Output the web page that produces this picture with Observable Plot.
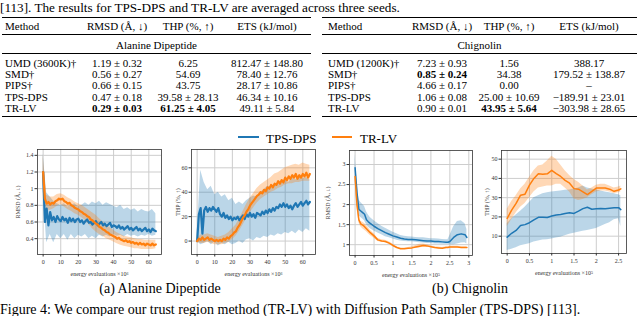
<!DOCTYPE html>
<html><head><meta charset="utf-8">
<script src="https://cdn.jsdelivr.net/npm/d3@7"></script>
<script src="https://cdn.jsdelivr.net/npm/@observablehq/plot@0.6"></script>
<style>
body{margin:0;width:640px;height:316px;overflow:hidden;background:#fff;font-family:"Liberation Serif",serif;color:#000;position:relative}
.t{position:absolute;white-space:nowrap;line-height:1;font-family:"Liberation Serif",serif}
.rule{position:absolute;background:#000}
.chart{position:absolute}
</style></head><body>
<script>
// ---------- text ----------
const topLine = "[113]. The results for TPS-DPS and TR-LV are averaged across three seeds.";
const captionA = "(a) Alanine Dipeptide";
const captionB = "(b) Chignolin";
const figCaption = "Figure 4: We compare our trust region method (TR-LV) with Diffusion Path Sampler (TPS-DPS) [113].";

// ---------- table ----------
const tableHeaders = ["Method", "RMSD (Å, ↓)", "THP (%, ↑)", "ETS (kJ/mol)"];
const adTitle = "Alanine Dipeptide";
const adMethods = ["UMD (3600K)†", "SMD†", "PIPS†", "TPS-DPS", "TR-LV"];
const adRMSD = ["1.19 ± 0.32", "0.56 ± 0.27", "0.66 ± 0.15", "0.47 ± 0.18", "0.29 ± 0.03"];
const adTHP = ["6.25", "54.69", "43.75", "39.58 ± 28.13", "61.25 ± 4.05"];
const adETS = ["812.47 ± 148.80", "78.40 ± 12.76", "28.17 ± 10.86", "46.34 ± 10.16", "49.11 ± 5.84"];
const adBoldRMSD = 4, adBoldTHP = 4;
const chTitle = "Chignolin";
const chMethods = ["UMD (1200K)†", "SMD†", "PIPS†", "TPS-DPS", "TR-LV"];
const chRMSD = ["7.23 ± 0.93", "0.85 ± 0.24", "4.66 ± 0.17", "1.06 ± 0.08", "0.90 ± 0.01"];
const chTHP = ["1.56", "34.38", "0.00", "25.00 ± 10.69", "43.95 ± 5.64"];
const chETS = ["388.17", "179.52 ± 138.87", "–", "−189.91 ± 23.01", "−303.98 ± 28.65"];
const chBoldRMSD = 1, chBoldTHP = 4;

// ---------- series ----------
const seriesNames = ["TPS-DPS", "TR-LV"];
const seriesColors = ["#1f77b4", "#ff7f0e"];

// Alanine dipeptide, x = energy evaluations ×10^6
const adX = d3.range(0, 65);
const adBandX = d3.range(0, 65, 2);
const adRmsdDps = [1.20,0.60,0.76,0.56,0.72,0.62,0.66,0.60,0.67,0.63,
  0.61,0.66,0.62,0.64,0.59,0.65,0.61,0.64,0.60,0.63,
  0.64,0.60,0.62,0.58,0.61,0.63,0.59,0.60,0.57,0.59,
  0.61,0.56,0.58,0.60,0.56,0.58,0.55,0.57,0.59,0.54,
  0.56,0.55,0.53,0.56,0.52,0.54,0.51,0.53,0.55,0.51,
  0.53,0.50,0.52,0.54,0.50,0.52,0.49,0.51,0.53,0.49,
  0.51,0.48,0.52,0.50,0.49];
const adRmsdLv = [1.20,0.88,0.82,0.84,0.81,0.83,0.82,0.85,0.86,0.88,
  0.87,0.88,0.85,0.84,0.82,0.83,0.80,0.79,0.77,0.76,
  0.75,0.73,0.72,0.70,0.69,0.67,0.66,0.63,0.62,0.60,
  0.58,0.57,0.54,0.53,0.51,0.50,0.48,0.47,0.45,0.44,
  0.43,0.42,0.40,0.41,0.39,0.38,0.37,0.38,0.36,0.37,
  0.35,0.36,0.34,0.35,0.33,0.35,0.33,0.34,0.32,0.34,
  0.33,0.32,0.34,0.32,0.33];
const adRmsdDpsLo = [1.00,0.35,0.45,0.35,0.45,0.40,0.45,0.38,0.45,0.40,0.44,0.42,0.45,0.40,0.43,0.40,0.44,0.42,0.44,0.42,0.45,0.43,0.44,0.42,0.45,0.43,0.44,0.42,0.44,0.43,0.45,0.43,0.44];
const adRmsdDpsHi = [1.42,0.95,0.90,0.85,0.82,0.80,0.82,0.78,0.80,0.82,0.78,0.80,0.83,0.80,0.84,0.82,0.85,0.80,0.83,0.81,0.79,0.77,0.80,0.75,0.77,0.74,0.76,0.72,0.75,0.73,0.72,0.75,0.70];
const adRmsdLvLo = [1.05,0.74,0.74,0.76,0.79,0.81,0.78,0.75,0.73,0.70,0.68,0.65,0.62,0.57,0.52,0.48,0.45,0.43,0.40,0.38,0.36,0.34,0.32,0.31,0.30,0.29,0.28,0.28,0.27,0.27,0.27,0.27,0.28];
const adRmsdLvHi = [1.40,0.92,0.90,0.90,0.93,0.94,0.92,0.89,0.87,0.84,0.82,0.80,0.77,0.74,0.71,0.68,0.64,0.60,0.56,0.53,0.50,0.47,0.45,0.43,0.42,0.41,0.40,0.39,0.39,0.38,0.38,0.38,0.38];

const adThpDps = [0,22,27,6,25,28,24,27,25,28,
  26,24,27,22,20,23,19,21,18,20,
  17,19,18,20,17,19,21,18,22,20,
  23,20,22,19,23,22,21,24,22,25,
  23,26,24,27,25,28,27,30,28,31,
  28,30,27,29,26,29,31,28,30,32,
  29,31,33,30,32];
const adThpLv = [0,2,1,3,1,2,3,1,2,1,
  0,1,0,1,0,2,1,3,2,4,
  5,7,8,11,13,16,19,21,24,26,
  29,31,33,35,37,38,40,39,42,41,
  44,43,46,44,47,46,49,47,50,48,
  52,50,53,51,54,52,55,51,54,52,
  55,53,56,52,55];
const adThpDpsLo = [0,-3,-2,0,-3,-1,-4,-2,-3,-1,-3,-2,0,-2,1,2,0,3,2,4,3,5,4,6,5,7,6,8,6,9,7,10,8];
const adThpDpsHi = [5,58,48,42,45,38,40,36,38,33,35,30,32,30,33,35,37,36,40,42,45,44,47,46,48,50,48,52,50,53,51,52,50];
const adThpLvLo = [-1,-2,-2,-1,-2,-3,-3,-3,-2,-1,1,4,8,13,18,23,27,31,34,36,38,40,41,43,44,46,47,47,48,48,49,49,49];
const adThpLvHi = [2,5,5,6,5,4,3,4,5,7,10,13,18,24,30,35,39,43,46,48,50,52,55,56,58,60,61,62,63,62,64,63,62];

// Chignolin, x = energy evaluations ×10^5
const chRmsdX = [0,0.05,0.1,0.15,0.2,0.25,0.3,0.35,0.4,0.5,0.6,0.7,0.8,0.9,1.0,1.1,1.2,1.3,1.4,1.5,1.6,1.7,1.8,1.9,2.0,2.1,2.2,2.3,2.4,2.45,2.5,2.6,2.7,2.8,2.9,2.95];
const chRmsdDps = [2.92,2.30,1.88,1.84,1.80,1.76,1.62,1.57,1.53,1.46,1.40,1.35,1.30,1.26,1.22,1.19,1.16,1.14,1.13,1.13,1.12,1.11,1.10,1.09,1.09,1.08,1.08,1.07,1.06,1.06,1.08,1.18,1.25,1.27,1.25,1.18];
const chRmsdDpsLo = [2.60,2.00,1.72,1.68,1.64,1.60,1.50,1.44,1.40,1.34,1.29,1.25,1.20,1.17,1.14,1.11,1.09,1.08,1.07,1.07,1.06,1.05,1.04,1.03,1.03,1.02,1.02,1.01,1.01,1.01,1.00,1.00,1.02,1.04,1.05,1.02];
const chRmsdDpsHi = [3.25,2.60,2.12,2.05,2.00,1.95,1.82,1.74,1.68,1.60,1.53,1.46,1.41,1.36,1.31,1.27,1.23,1.21,1.20,1.19,1.18,1.17,1.17,1.16,1.15,1.15,1.14,1.13,1.12,1.12,1.22,1.45,1.58,1.60,1.52,1.38];
const chRmsdLv = [2.70,2.00,1.62,1.52,1.49,1.45,1.40,1.35,1.30,1.22,1.12,1.09,1.08,1.04,0.98,0.93,0.90,0.90,0.91,0.92,0.94,0.96,0.98,0.97,0.95,0.93,0.92,0.91,0.93,0.93,0.94,0.94,0.94,0.93,0.93,0.93];
const chRmsdLvLo = [2.65,1.90,1.55,1.45,1.40,1.36,1.32,1.27,1.23,1.16,1.08,1.06,1.05,1.01,0.95,0.91,0.88,0.88,0.89,0.90,0.91,0.92,0.94,0.94,0.93,0.91,0.90,0.89,0.91,0.91,0.92,0.92,0.92,0.91,0.91,0.91];
const chRmsdLvHi = [2.75,2.10,1.68,1.58,1.56,1.53,1.48,1.42,1.36,1.27,1.16,1.12,1.11,1.07,1.01,0.95,0.92,0.92,0.93,0.95,0.98,1.01,1.02,1.00,0.97,0.95,0.94,0.93,0.95,0.95,0.96,0.96,0.96,0.95,0.95,0.95];

const chThpX = [0,0.1,0.2,0.3,0.4,0.5,0.6,0.7,0.8,0.9,1.0,1.1,1.2,1.3,1.4,1.5,1.6,1.7,1.8,1.9,2.0,2.1,2.2,2.3,2.4,2.5,2.55];
const chThpLv = [19.2,23.5,27,31.3,31.8,36.5,40,42.4,42.2,42.4,44.2,42.5,41,39,37.5,34.7,34.4,33,31.6,33.3,35,35,35,34.4,33.3,34,34.6];
const chThpLvLo = [15,18.5,22,25,27,30,33,35,35.5,36,36,37,37,35,33,29.5,28.5,29,30,31.5,33,33.5,33.5,33,32,32.5,33];
const chThpLvHi = [24,28,31,34.5,37,40.5,44,46.5,47,49,51.5,50,47,44,41.5,39.5,38,36,34,35,36.5,37,37,36,35,35.5,36];
const chThpDps = [9.5,11.5,13,15.5,16,17,18.5,19.8,19.8,19.7,20.5,21,21.3,21.8,22.2,21.8,23,24.3,25,24,24.2,24.4,24.2,24.5,24.7,24.8,23.8];
const chThpDpsLo = [2.5,3.2,4,5,5.5,6,7,7.5,8,8.2,8.5,9,9.5,10.2,11,11.5,12,12.5,13,13.5,14,15,16,17,18.5,19,15];
const chThpDpsHi = [16.5,19,21,23,25,27.5,30,31,32,32.5,33,33.2,33.5,33.8,34,34.5,35,36,35,34.5,34,33.5,33,32.5,32,31.5,31];

// ticks
const adXTicks = [0,10,20,30,40,50,60];
const adRmsdTicks = [0.4,0.6,0.8,1,1.2,1.4];
const adThpTicks = [0,20,40,60];
const chRmsdXTicks = [0,0.5,1,1.5,2,2.5,3];
const chRmsdTicks = [1,1.5,2,2.5,3];
const chThpXTicks = [0,0.5,1,1.5,2,2.5];
const chThpTicks = [10,20,30,40,50];

// ---------- helpers ----------
function txt(s, x, y, opts = {}) {
  const d = document.createElement("div");
  d.className = "t";
  d.textContent = s;
  d.style.left = x + "px";
  d.style.top = y + "px";
  d.style.fontSize = (opts.size || 11) + "px";
  if (opts.bold) d.style.fontWeight = "bold";
  const tx = opts.align === "left" ? "0" : "-50%";
  d.style.transform = `translate(${tx},-50%)`;
  document.body.appendChild(d);
  return d;
}
function rule(x, y, w, h) {
  const d = document.createElement("div");
  d.className = "rule";
  Object.assign(d.style, {left: x + "px", top: y + "px", width: w + "px", height: h + "px"});
  document.body.appendChild(d);
}
function table(x0, x1, cols, title, methods, rmsd, thp, ets, bR, bT) {
  rule(x0, 16.5, x1 - x0, 1.2);
  rule(x0, 34.3, x1 - x0, 0.6);
  rule(x0, 53.3, x1 - x0, 0.6);
  rule(x0, 116.3, x1 - x0, 1.2);
  txt(tableHeaders[0], cols[0], 25.5, {align: "left"});
  for (let j = 1; j < 4; j++) txt(tableHeaders[j], cols[j], 25.5);
  txt(title, (x0 + x1) / 2, 44.5);
  const rowsY = [62.8, 74.1, 85.4, 96.7, 108];
  methods.forEach((m, i) => {
    const y = rowsY[i];
    txt(m, cols[0], y, {align: "left"});
    txt(rmsd[i], cols[1], y, {bold: i === bR});
    txt(thp[i], cols[2], y, {bold: i === bT});
    txt(ets[i], cols[3], y);
  });
}

txt(topLine, 0, 8, {size: 13.2, align: "left"});
table(2, 311, [5, 117, 188, 267], adTitle, adMethods, adRMSD, adTHP, adETS, adBoldRMSD, adBoldTHP);
table(322, 637, [328, 442, 509, 589], chTitle, chMethods, chRMSD, chTHP, chETS, chBoldRMSD, chBoldTHP);

// legend
[[238, 259, 266], [332, 352, 360]].forEach(([a, b, t], i) => {
  const l = document.createElement("div");
  l.className = "rule";
  Object.assign(l.style, {left: a + "px", top: "135.8px", width: (b - a) + "px", height: "2.6px", background: seriesColors[i]});
  document.body.appendChild(l);
  txt(seriesNames[i], t, 137.5, {size: 13, align: "left"});
});

txt(captionA, 160, 289, {size: 14});
txt(captionB, 470, 289, {size: 14});
txt(figCaption, 0, 309.5, {size: 14, align: "left"});

// ---------- charts ----------
function rows(x, y) { return x.map((v, i) => ({x: v, y: y[i]})); }
function band(x, lo, hi) { return x.map((v, i) => ({x: v, lo: lo[i], hi: hi[i]})); }

function panel(cfg) {
  const marks = [
    Plot.ruleX(cfg.xt, {stroke: "#cdcdcd", strokeWidth: 1}),
    Plot.ruleY(cfg.yt, {stroke: "#cdcdcd", strokeWidth: 1}),
  ];
  cfg.bands.forEach((b, i) => marks.push(Plot.areaY(b, {x: "x", y1: "lo", y2: "hi", fill: seriesColors[i], fillOpacity: 0.3, curve: "linear"})));
  cfg.lines.forEach((l, i) => marks.push(Plot.line(l, {x: "x", y: "y", stroke: seriesColors[i], strokeWidth: cfg.sw})));
  marks.push(Plot.frame({stroke: "#333", strokeWidth: 0.8}));
  const svg = Plot.plot({
    width: cfg.w, height: 140,
    marginLeft: cfg.ml, marginRight: cfg.mr, marginTop: cfg.mt, marginBottom: 140 - cfg.fb,
    style: {fontFamily: '"Liberation Serif", serif', fontSize: "6px", color: "#333", background: "transparent"},
    x: {domain: cfg.xd, ticks: cfg.xt, tickFormat: d => String(d), tickSize: 2.5, tickPadding: 2.5,
        label: cfg.xl, labelAnchor: "center", labelOffset: 21, labelArrow: "none"},
    y: {domain: cfg.yd, ticks: cfg.yt, tickFormat: d => String(d), tickSize: 2.5, tickPadding: 1.5,
        label: cfg.yl, labelAnchor: "center", labelOffset: cfg.ylo, labelArrow: "none"},
    marks
  });
  svg.classList.add("chart");
  svg.style.left = cfg.left + "px";
  svg.style.top = "140px";
  svg.style.position = "absolute";
  document.body.appendChild(svg);
}

panel({left: 0, w: 170, ml: 37, mr: 9, mt: 9, fb: 114, sw: 2.2,
  xd: [-3.2, 67.2], yd: [0.21, 1.47], xt: adXTicks, yt: adRmsdTicks,
  xl: "energy evaluations ×10⁶", yl: "RMSD (Å, ↓)", ylo: 22,
  bands: [band(adBandX, adRmsdDpsLo, adRmsdDpsHi), band(adBandX, adRmsdLvLo, adRmsdLvHi)],
  lines: [rows(adX, adRmsdDps), rows(adX, adRmsdLv)]});

panel({left: 165, w: 160, ml: 26, mr: 10, mt: 9, fb: 114, sw: 2.2,
  xd: [-3.2, 67.2], yd: [-11, 75], xt: adXTicks, yt: adThpTicks,
  xl: "energy evaluations ×10⁶", yl: "THP (%, ↑)", ylo: 16,
  bands: [band(adBandX, adThpDpsLo, adThpDpsHi), band(adBandX, adThpLvLo, adThpLvHi)],
  lines: [rows(adX, adThpDps), rows(adX, adThpLv)]});

panel({left: 318, w: 160, ml: 31, mr: 6, mt: 10, fb: 115, sw: 1.5,
  xd: [-0.1475, 3.0975], yd: [0.73, 3.35], xt: chRmsdXTicks, yt: chRmsdTicks,
  xl: "energy evaluations ×10⁵", yl: "RMSD (Å, ↓)", ylo: 24,
  bands: [band(chRmsdX, chRmsdDpsLo, chRmsdDpsHi), band(chRmsdX, chRmsdLvLo, chRmsdLvHi)],
  lines: [rows(chRmsdX, chRmsdDps), rows(chRmsdX, chRmsdLv)]});

panel({left: 476, w: 164, ml: 25, mr: 14, mt: 10, fb: 113, sw: 1.5,
  xd: [-0.1275, 2.6775], yd: [1, 54.5], xt: chThpXTicks, yt: chThpTicks,
  xl: "energy evaluations ×10⁵", yl: "THP (%, ↑)", ylo: 17,
  bands: [band(chThpX, chThpDpsLo, chThpDpsHi), band(chThpX, chThpLvLo, chThpLvHi)],
  lines: [rows(chThpX, chThpDps), rows(chThpX, chThpLv)]});
</script>
</body></html>
